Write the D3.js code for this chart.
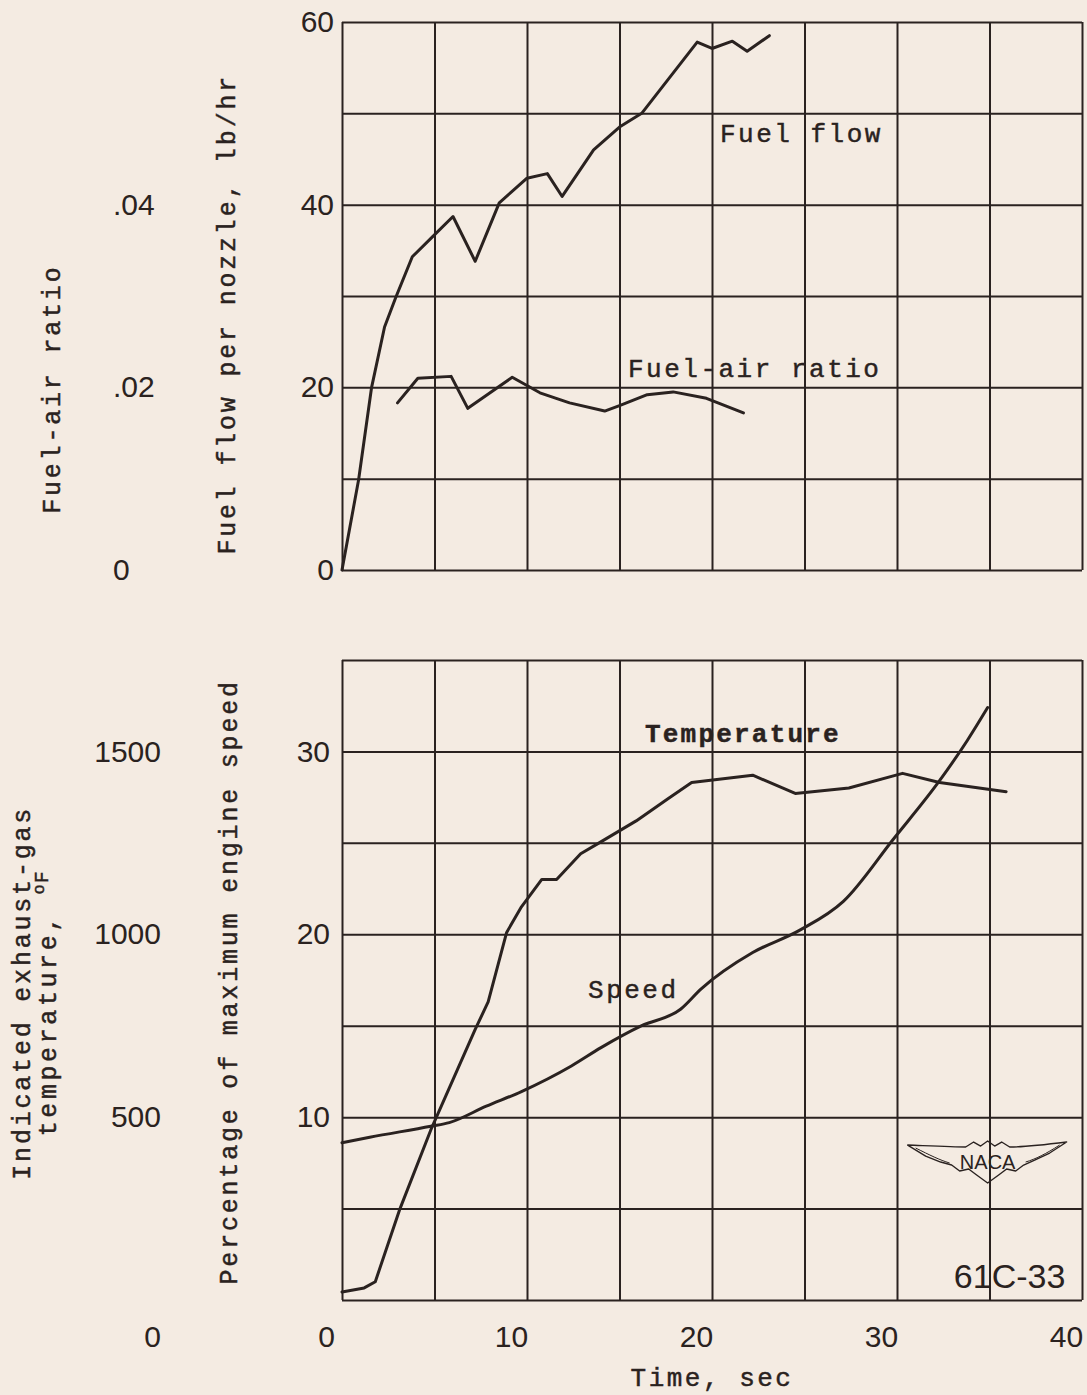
<!DOCTYPE html>
<html>
<head>
<meta charset="utf-8">
<script src="https://cdn.jsdelivr.net/npm/d3@7"></script>
<style>
  body { margin: 0; background: #f4ebe2; }
  .typed { font-family: "Liberation Mono", "DejaVu Sans Mono", monospace; fill: #2a2220; stroke: #2a2220; stroke-width: 0.45; }
  .digits { font-family: "Liberation Sans", Arial, sans-serif; fill: #2a2220; }
</style>
</head>
<body>
<div id="chart"></div>
<script>
// values
var timeTicks = [0, 10, 20, 30, 40];
var flowTicks = [0, 20, 40, 60];
var ratioTicks = [0, 0.02, 0.04];
var speedTicks = [10, 20, 30];
var tempTicks = [0, 500, 1000, 1500];

var flowTime  = [0, 0.9, 1.6, 2.3, 2.9, 3.8, 4.9, 6.0, 7.2, 8.5, 10.0, 11.1, 11.9, 13.6, 15.0, 16.2, 19.2, 20.0, 21.1, 21.9, 23.1];
var flowValue = [0, 9.9, 20, 26.6, 29.8, 34.3, 36.5, 38.7, 33.8, 40.2, 42.9, 43.4, 40.9, 46, 48.5, 50, 57.8, 57.1, 57.9, 56.8, 58.5];

var ratioTime  = [3.0, 4.1, 5.9, 6.8, 9.2, 10.7, 12.3, 14.2, 15.0, 16.5, 17.9, 19.7, 21.7];
var ratioValue = [0.0183, 0.0210, 0.0212, 0.0177, 0.0211, 0.0194, 0.0183, 0.0174, 0.0180, 0.0192, 0.0195, 0.0188, 0.0172];

var tempTime  = [0, 1.2, 1.8, 3.1, 4.8, 7.2, 7.9, 8.9, 9.7, 10.8, 11.6, 12.9, 13.9, 15.9, 17.6, 18.9, 22.2, 24.5, 27.4, 30.3, 32.3, 35.9];
var tempValue = [22, 33, 50, 245, 465, 740, 815, 1005, 1075, 1150, 1150, 1220, 1250, 1310, 1370, 1415, 1435, 1385, 1400, 1440, 1415, 1390];

var speedTime  = [0, 1.5, 4.8, 5.8, 7.8, 9.7, 12.4, 14.0, 16.2, 18.3, 19.4, 22.2, 24.7, 27.1, 29.8, 32.3, 33.8, 34.9];
var speedValue = [8.6, 8.9, 9.5, 9.7, 10.6, 11.4, 12.8, 13.8, 15.0, 15.9, 17.0, 19.0, 20.2, 21.8, 25.2, 28.4, 30.6, 32.4];

var ink = "#2a2220";
var W = 1087, H = 1395;

var svg = d3.select("#chart")
  .append("svg")
    .attr("width", W)
    .attr("height", H);

svg.append("rect").attr("width", W).attr("height", H).attr("fill", "#f4ebe2");

var x = d3.scaleLinear().domain([0, 40]).range([342, 1082]);
var yFlow = d3.scaleLinear().domain([0, 60]).range([570, 22]);
var yRatio = d3.scaleLinear().domain([0, 0.06]).range([570, 22]);
var ySpeed = d3.scaleLinear().domain([0, 35]).range([1300, 660]);
var yTemp = d3.scaleLinear().domain([0, 1750]).range([1300, 660]);

function grid(yScale, step) {
  var top = yScale.range()[1], bottom = yScale.range()[0];
  var d = yScale.domain();
  var g = svg.append("g");
  g.append("g")
    .attr("transform", "translate(0," + bottom + ")")
    .call(d3.axisBottom(x).tickValues(d3.range(0, 41, 5)).tickSize(-(bottom - top)).tickFormat(""));
  g.append("g")
    .attr("transform", "translate(" + x(0) + ",0)")
    .call(d3.axisLeft(yScale).tickValues(d3.range(d[0], d[1] + 0.001, step)).tickSize(-(x(40) - x(0))).tickFormat(""));
  g.selectAll(".domain").remove();
  g.selectAll(".tick line").attr("stroke", ink).attr("stroke-width", 2);
}
grid(yFlow, 10);
grid(ySpeed, 5);

function labels(g) {
  g.select(".domain").remove();
  g.selectAll("text")
    .attr("class", "digits")
    .attr("font-size", 30)
    .attr("fill", ink);
}

// left axes
svg.append("g")
  .attr("transform", "translate(" + x(0) + ",0)")
  .call(d3.axisLeft(yFlow).tickValues(flowTicks).tickSize(0).tickPadding(8))
  .call(labels);

svg.append("g")
  .attr("transform", "translate(113,0)")
  .call(d3.axisLeft(yRatio).tickValues(ratioTicks).tickSize(0).tickPadding(0)
    .tickFormat(function(d) { return d === 0 ? "0" : d3.format(".2f")(d).replace("0.", "."); }))
  .call(labels)
  .selectAll("text").attr("text-anchor", "start");

svg.append("g")
  .attr("transform", "translate(" + (x(0) - 4) + ",0)")
  .call(d3.axisLeft(ySpeed).tickValues(speedTicks).tickSize(0).tickPadding(8))
  .call(labels);

svg.append("g")
  .attr("transform", "translate(161,0)")
  .call(d3.axisLeft(yTemp).tickValues(tempTicks).tickSize(0).tickPadding(0).tickFormat(d3.format("d")))
  .call(labels)
  .selectAll("text").filter(function(d) { return d === 0; }).attr("y", 37);

// bottom axis
svg.append("g")
  .attr("transform", "translate(-16," + ySpeed(0) + ")")
  .call(d3.axisBottom(x).tickValues(timeTicks).tickSize(0).tickPadding(26))
  .call(labels);

// curves
function curve(xs, ys, yScale, shape) {
  svg.append("path")
    .datum(d3.zip(xs, ys))
    .attr("fill", "none")
    .attr("stroke", ink)
    .attr("stroke-width", 3)
    .attr("stroke-linejoin", "round")
    .attr("stroke-linecap", "round")
    .attr("d", d3.line()
      .curve(shape)
      .x(function(d) { return x(d[0]); })
      .y(function(d) { return yScale(d[1]); }));
}
curve(flowTime, flowValue, yFlow, d3.curveLinear);
curve(ratioTime, ratioValue, yRatio, d3.curveLinear);
curve(tempTime, tempValue, yTemp, d3.curveLinear);
curve(speedTime, speedValue, ySpeed, d3.curveMonotoneX);

// curve labels
function typed(txt, px, py, opts) {
  opts = opts || {};
  return svg.append("text")
    .attr("class", "typed")
    .attr("x", px)
    .attr("y", py)
    .attr("font-size", opts.size || 26)
    .attr("letter-spacing", opts.spacing == null ? 2.5 : opts.spacing)
    .attr("font-weight", opts.weight || "normal")
    .attr("text-anchor", opts.anchor || "start")
    .text(txt);
}
typed("Fuel flow", x(20.43), yFlow(46.9));
typed("Fuel-air ratio", x(15.46), yRatio(0.0211));
typed("Temperature", x(16.38), ySpeed(30.5), {weight: "bold", spacing: 2.2});
typed("Speed", x(13.3), ySpeed(16.5));
typed("Time, sec", x(20), 1386, {anchor: "middle"});

// rotated axis titles
function vtitle(txt, px, py) {
  return svg.append("text")
    .attr("class", "typed")
    .attr("transform", "translate(" + px + "," + py + ") rotate(-90)")
    .attr("font-size", 25)
    .attr("letter-spacing", 2.8)
    .attr("text-anchor", "middle")
    .text(txt);
}
vtitle("Fuel flow per nozzle, lb/hr", 235, yFlow(28));
vtitle("Fuel-air ratio", 60, yRatio(0.0198));
vtitle("Percentage of maximum engine speed", 237, ySpeed(17.4));
vtitle("Indicated exhaust-gas", 30, yTemp(840));

var tt = svg.append("text")
  .attr("class", "typed")
  .attr("transform", "translate(56," + yTemp(810) + ") rotate(-90)")
  .attr("font-size", 25)
  .attr("letter-spacing", 3.6)
  .attr("text-anchor", "middle");
tt.append("tspan").text("temperature, ");
tt.append("tspan").attr("font-size", 17).attr("dy", -12).attr("letter-spacing", 1).text("o");
tt.append("tspan").attr("font-size", 20).attr("dy", 4).attr("letter-spacing", 0).text("F");

// NACA emblem
var logo = svg.append("g")
  .attr("transform", "translate(" + x(34.9) + "," + ySpeed(7.6) + ")");
logo.append("path")
  .attr("d", "M-80,-16 C-55,-15 -34,-14 -22,-14 L-14,-19 L-7,-15 L0,-20 L7,-15 L14,-19 L22,-14 C34,-14 55,-16 79,-19 L62,-8 L47,-1 L36,4 L28,10 L19,8 L11,14 L0,22 L-11,14 L-19,8 L-28,10 L-36,4 L-47,1 L-62,-5 Z")
  .attr("fill", "none")
  .attr("stroke", ink)
  .attr("stroke-width", 1.4)
  .attr("stroke-linejoin", "round");
logo.append("path")
  .attr("d", "M-72,-13 C-58,-6 -48,-1 -38,2 M72,-16 C58,-7 48,-2 38,1")
  .attr("fill", "none")
  .attr("stroke", ink)
  .attr("stroke-width", 1);
logo.append("text")
  .attr("class", "digits")
  .attr("y", 8)
  .attr("font-size", 20)
  .attr("text-anchor", "middle")
  .text("NACA");

svg.append("text")
  .attr("class", "digits")
  .attr("x", x(39.1))
  .attr("y", ySpeed(0.65))
  .attr("font-size", 34)
  .attr("text-anchor", "end")
  .text("61C-33");
</script>
</body>
</html>
